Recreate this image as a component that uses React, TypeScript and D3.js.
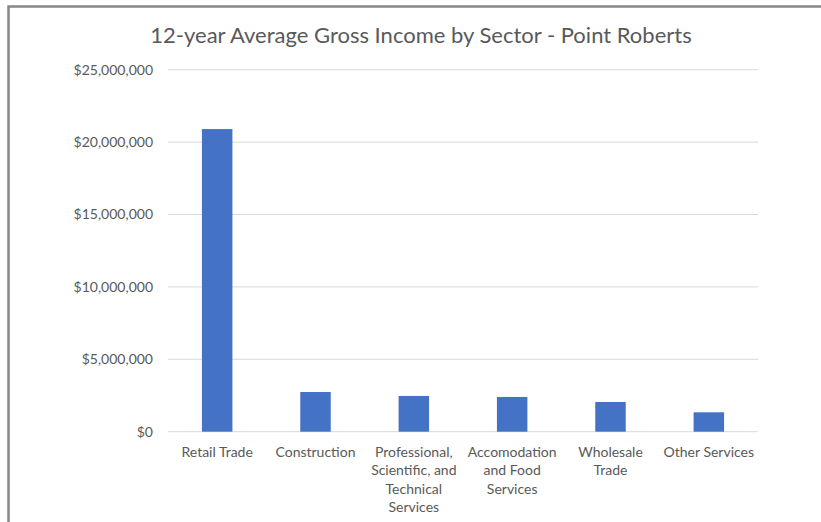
import React from "react";
import * as d3 from "d3";

const title = "12-year Average Gross Income by Sector - Point Roberts";
const categories = [
  "Retail Trade",
  "Construction",
  "Professional, Scientific, and Technical Services",
  "Accomodation and Food Services",
  "Wholesale Trade",
  "Other Services",
];
const values = [20900000, 2740000, 2470000, 2400000, 2050000, 1340000];
const yTicks = [0, 5000000, 10000000, 15000000, 20000000, 25000000];

const W = 821;
const H = 522;
const FONT = "Lato, 'Open Sans', sans-serif";

let ctx: CanvasRenderingContext2D | null = null;
function measure(text: string, size: number) {
  if (!ctx) ctx = document.createElement("canvas").getContext("2d");
  if (!ctx) return text.length * size * 0.5;
  ctx.font = `${size}px Lato`;
  return ctx.measureText(text).width;
}
function wrap(text: string, maxW: number, size: number) {
  const words = text.split(" ");
  const lines: string[] = [];
  let cur = "";
  for (const w of words) {
    const t = cur ? cur + " " + w : w;
    if (cur && measure(t, size) > maxW) {
      lines.push(cur);
      cur = w;
    } else cur = t;
  }
  if (cur) lines.push(cur);
  return lines;
}

export default function App() {
  const left = 168, right = 758, top = 69.7, bottom = 431.7;
  const x = d3.scaleBand<string>().domain(categories).range([left, right]).paddingInner(0.69).paddingOuter(0.345);
  const y = d3.scaleLinear().domain([0, 25000000]).range([bottom, top]);
  const fmt = (v: number) => "$" + d3.format(",")(v);
  const band = (right - left) / categories.length;
  return (
    <svg width={W} height={H} style={{ position: "absolute", left: 0, top: 0, background: "#fff" }} fontFamily={FONT}>
      <rect x={0} y={0} width={W} height={H} fill="#fff" />
      <rect x={8.5} y={6.5} width={W + 50} height={H + 50} fill="none" stroke="#878787" strokeWidth={2.5} />
      <text x={421} y={43} textAnchor="middle" fontSize={22} fill="#595959">{title}</text>
      {yTicks.map((t) => (
        <g key={t}>
          <line x1={left} x2={right} y1={y(t)} y2={y(t)} stroke="#d9d9d9" strokeWidth={1} />
          <text x={153} y={y(t)} dy="0.35em" textAnchor="end" fontSize={14} fill="#595959">{fmt(t)}</text>
        </g>
      ))}
      {categories.map((c, i) => (
        <rect key={c} x={x(c)} y={y(values[i])} width={x.bandwidth()} height={y(0) - y(values[i])} fill="#4472C4" />
      ))}
      {categories.map((c) => {
        const lines = wrap(c, band - 3, 14);
        const cx = (x(c) as number) + x.bandwidth() / 2;
        return (
          <text key={c} textAnchor="middle" fontSize={14} fill="#595959">
            {lines.map((l, j) => (
              <tspan key={j} x={cx} y={456.5 + j * 18.5}>{l}</tspan>
            ))}
          </text>
        );
      })}
    </svg>
  );
}
